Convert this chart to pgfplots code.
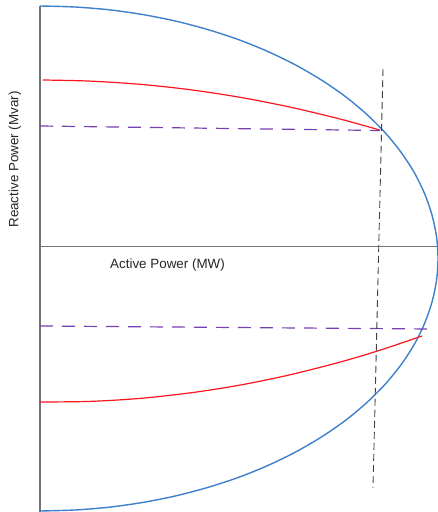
\documentclass[border=0pt]{standalone}
\usepackage{pgfplots}
\pgfplotsset{compat=1.18}
\usepackage{fontspec}
\setmainfont{Liberation Sans}
\definecolor{cblue}{RGB}{62,128,204}
\definecolor{cred}{RGB}{250,20,30}
\definecolor{cpurple}{RGB}{118,64,176}
\begin{document}
\begin{tikzpicture}
\begin{axis}[
  at={(0,0)}, anchor=south west,
  scale only axis, width=437pt, height=512pt,
  xmin=-40, xmax=397, ymin=-266, ymax=246,
  hide axis, clip=false,
]
% axes
\addplot[black!55, line width=1.2pt] coordinates {(0,240) (0,-266)};
\addplot[black!55, line width=1.2pt] coordinates {(0,-0.5) (397,-0.5)};
% capability ellipse
\addplot[cblue, line width=1.4pt, smooth] coordinates {
(0,240) (34.7,239.0) (69.1,236.2) (103.0,231.4) (136.1,224.8) (168.2,216.3)
(199,206.2) (228.3,194.3) (255.8,180.9) (281.4,166.0) (304.9,149.8) (326.0,132.3)
(344.7,113.75) (360.7,94.2) (374.0,73.9) (384.4,52.8) (391.9,31.3) (396.5,9.5)
(398,-12.5) (396.5,-34.5) (391.9,-56.3) (384.4,-77.8) (374.0,-98.9) (360.7,-119.2)
(344.7,-138.75) (326.0,-157.3) (304.9,-174.8) (281.4,-191.0) (255.8,-205.9)
(228.3,-219.3) (199,-231.2) (168.2,-241.3) (136.1,-249.8) (103.0,-256.4)
(69.1,-261.2) (34.7,-264.0) (0,-265)};
% red curves
\addplot[cred, line width=1.2pt, smooth] coordinates {
(3,166) (50,164.9) (100,161.7) (150,156.3) (200,148.7) (250,138.9) (300,127.0) (340,115.9)};
\addplot[cred, line width=1.2pt, smooth] coordinates {
(0,-156) (50,-155.4) (100,-152.4) (150,-146.9) (200,-139.1) (250,-128.8) (300,-116.1) (340,-104.2) (382,-90.0)};
% purple dashed
\addplot[cpurple, line width=1.2pt, dash pattern=on 13pt off 9pt] coordinates {(0,120) (340,115.5)};
\addplot[cpurple, line width=1.2pt, dash pattern=on 13pt off 9pt] coordinates {(0,-80) (390,-83)};
% vertical dashed
\addplot[black!75, line width=0.9pt, dash pattern=on 7pt off 4pt] coordinates {(343,177) (333,-242)};
% labels
\node[rotate=90, font=\fontsize{13.4}{15}\selectfont, text=black!85] at (axis cs:-25,86.5) {Reactive Power (Mvar)};
\node[font=\fontsize{13.4}{15}\selectfont, text=black!85] at (axis cs:127.5,-19) {Active Power (MW)};
\end{axis}
\pgfresetboundingbox
\path (0,0) rectangle (437pt,512pt);
\end{tikzpicture}
\end{document}
